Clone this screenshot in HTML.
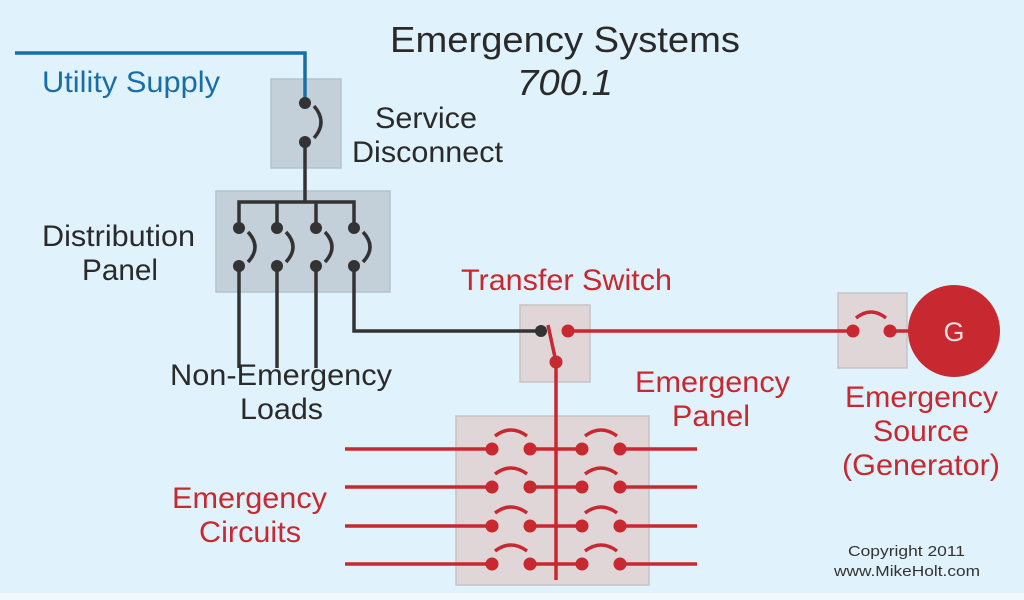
<!DOCTYPE html>
<html><head><meta charset="utf-8"><style>
html,body{margin:0;padding:0;background:#e0f2fb;}
svg{display:block}
text{font-family:"Liberation Sans",Arial,sans-serif}
</style></head><body>
<svg width="1024" height="600" viewBox="0 0 1024 600" xmlns="http://www.w3.org/2000/svg">
<rect x="0" y="0" width="1024" height="600" fill="#e0f2fb"/>
<rect x="0" y="593" width="1024" height="7" fill="#f0f8fc"/>

<rect x="271" y="79" width="70" height="89" fill="#c3d0da" stroke="#b4c2cc" stroke-width="1.5"/>
<rect x="216" y="191" width="174" height="101" fill="#c3d0da" stroke="#b4c2cc" stroke-width="1.5"/>
<rect x="520" y="305" width="70" height="77" fill="#e0d6d8" stroke="#c8c2c6" stroke-width="1.5"/>
<rect x="456" y="416" width="193" height="169" fill="#e0d6d8" stroke="#c8c2c6" stroke-width="1.5"/>
<rect x="838" y="293" width="69" height="75" fill="#e0d6d8" stroke="#c8c2c6" stroke-width="1.5"/>

<polyline points="15,53 305,53 305,103" fill="none" stroke="#1a6ea8" stroke-width="3.5"/>

<g stroke="#333" stroke-width="3.5" fill="none">
<path d="M314,106 Q328,122 314,138"/>
<line x1="305" y1="142" x2="305" y2="202"/>
<polyline points="239,228 239,202 354,202 354,228"/>
<line x1="277" y1="202" x2="277" y2="228"/>
<line x1="316" y1="202" x2="316" y2="228"/>
<path d="M248,232 Q262,247 248,262"/>
<path d="M286,232 Q300,247 286,262"/>
<path d="M325,232 Q339,247 325,262"/>
<path d="M363,232 Q377,247 363,262"/>
<line x1="239" y1="266" x2="239" y2="368"/>
<line x1="277" y1="266" x2="277" y2="368"/>
<line x1="316" y1="266" x2="316" y2="368"/>
<polyline points="354,266 354,331 541,331"/>
</g>
<g fill="#333">
<circle cx="305" cy="103" r="6"/><circle cx="305" cy="142" r="6"/>
<circle cx="239" cy="228" r="6"/><circle cx="277" cy="228" r="6"/><circle cx="316" cy="228" r="6"/><circle cx="354" cy="228" r="6"/>
<circle cx="239" cy="266" r="6"/><circle cx="277" cy="266" r="6"/><circle cx="316" cy="266" r="6"/><circle cx="354" cy="266" r="6"/>
<circle cx="541" cy="331" r="6"/>
</g>

<g stroke="#c8282f" stroke-width="3.5" fill="none">
<line x1="548" y1="325" x2="556" y2="362"/>
<line x1="568" y1="331" x2="853" y2="331"/>
<line x1="556" y1="362" x2="556" y2="580"/>
<path d="M856,318 Q871,306 886,318"/>
<line x1="890" y1="331" x2="910" y2="331"/>
<g id="row">
<line x1="345" y1="449" x2="492" y2="449"/>
<line x1="530" y1="449" x2="582" y2="449"/>
<line x1="620" y1="449" x2="697" y2="449"/>
<path d="M495,436 Q511,424 527,436"/>
<path d="M585,436 Q601,424 617,436"/>
</g>
<use href="#row" y="38"/><use href="#row" y="77"/><use href="#row" y="115"/>
</g>
<g fill="#c8282f">
<circle cx="568" cy="331" r="6.5"/><circle cx="556" cy="362" r="6.5"/>
<circle cx="853" cy="331" r="6.5"/><circle cx="890" cy="331" r="6.5"/>
<g id="rd"><circle cx="492" cy="449" r="6.5"/><circle cx="530" cy="449" r="6.5"/><circle cx="582" cy="449" r="6.5"/><circle cx="620" cy="449" r="6.5"/></g>
<use href="#rd" y="38"/><use href="#rd" y="77"/><use href="#rd" y="115"/>
<circle cx="954" cy="331" r="46"/>
</g>
<text x="954" y="341" font-size="27" fill="#f4dede" text-anchor="middle">G</text>

<g font-size="30" lengthAdjust="spacingAndGlyphs">
<text x="390" y="52" font-size="36" fill="#2a2a2a" textLength="350" lengthAdjust="spacingAndGlyphs">Emergency Systems</text>
<text x="517" y="95" font-size="36" fill="#2a2a2a" font-style="italic" textLength="96" lengthAdjust="spacingAndGlyphs">700.1</text>
<text x="42" y="92" fill="#1a6ea8" textLength="178" lengthAdjust="spacingAndGlyphs">Utility Supply</text>
<text x="375" y="128" fill="#2a2a2a" textLength="102" lengthAdjust="spacingAndGlyphs">Service</text>
<text x="352" y="162" fill="#2a2a2a" textLength="151" lengthAdjust="spacingAndGlyphs">Disconnect</text>
<text x="42" y="246" fill="#2a2a2a" textLength="153" lengthAdjust="spacingAndGlyphs">Distribution</text>
<text x="82" y="280" fill="#2a2a2a" textLength="76" lengthAdjust="spacingAndGlyphs">Panel</text>
<text x="170" y="385" fill="#2a2a2a" textLength="222" lengthAdjust="spacingAndGlyphs">Non-Emergency</text>
<text x="240" y="419" fill="#2a2a2a" textLength="83" lengthAdjust="spacingAndGlyphs">Loads</text>
<text x="461" y="290" fill="#c8282f" textLength="211" lengthAdjust="spacingAndGlyphs">Transfer Switch</text>
<text x="635" y="392" fill="#c8282f" textLength="155" lengthAdjust="spacingAndGlyphs">Emergency</text>
<text x="672" y="426" fill="#c8282f" textLength="78" lengthAdjust="spacingAndGlyphs">Panel</text>
<text x="845" y="407" fill="#c8282f" textLength="153" lengthAdjust="spacingAndGlyphs">Emergency</text>
<text x="873" y="441" fill="#c8282f" textLength="96" lengthAdjust="spacingAndGlyphs">Source</text>
<text x="842" y="475" fill="#c8282f" textLength="158" lengthAdjust="spacingAndGlyphs">(Generator)</text>
<text x="172" y="508" fill="#c8282f" textLength="155" lengthAdjust="spacingAndGlyphs">Emergency</text>
<text x="199" y="542" fill="#c8282f" textLength="102" lengthAdjust="spacingAndGlyphs">Circuits</text>
<text x="848" y="556" font-size="14.5" fill="#333" textLength="117" lengthAdjust="spacingAndGlyphs">Copyright 2011</text>
<text x="834" y="576" font-size="14.5" fill="#333" textLength="146" lengthAdjust="spacingAndGlyphs">www.MikeHolt.com</text>
</g>
</svg>
</body></html>
